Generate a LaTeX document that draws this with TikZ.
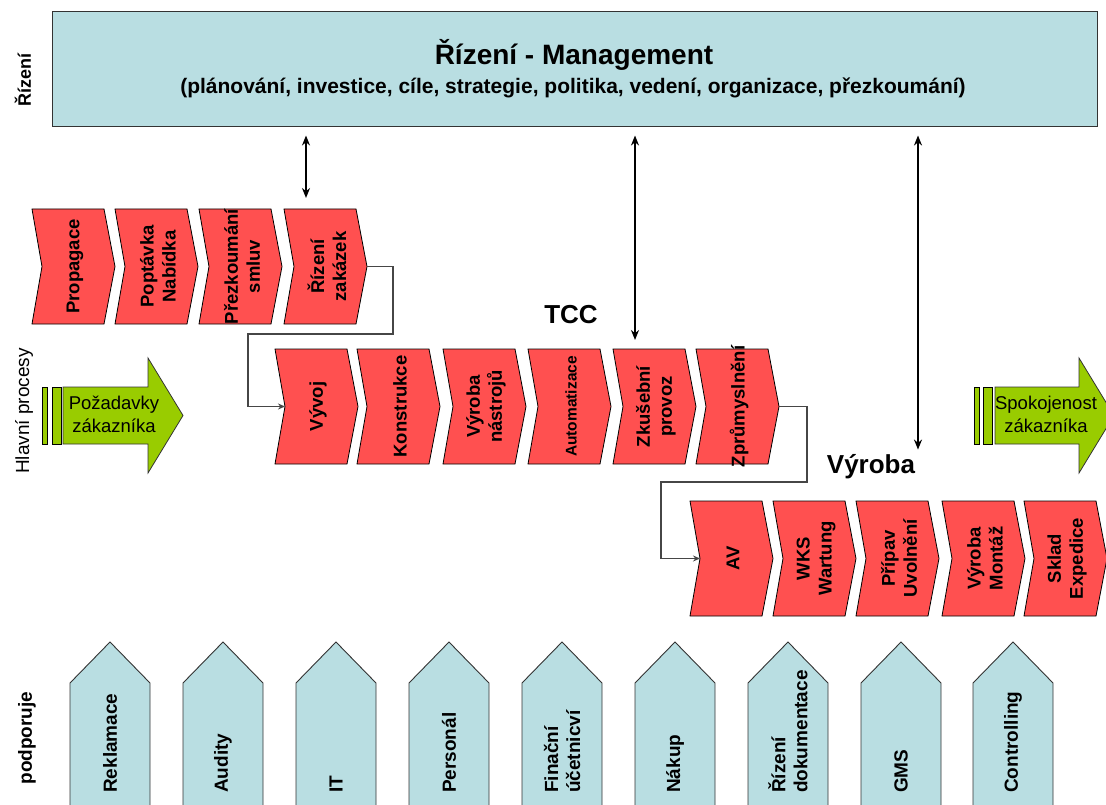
\documentclass[tikz,border=0pt]{standalone}
\usepackage{fontspec}
\setmainfont{Liberation Sans}
\usetikzlibrary{arrows.meta,calc}
\definecolor{mgmtblue}{RGB}{185,222,226}
\definecolor{procred}{RGB}{255,80,80}
\definecolor{custgreen}{RGB}{153,204,0}
\definecolor{linegray}{RGB}{70,70,70}
\newcommand{\chev}[4]{%
  \draw[chevron] (#2,#3) -- ++(72,0) -- ++(11,57.5) -- ++(-11,57.5) -- ++(-72,0) -- ++(10,-57.5) -- cycle;
  \coordinate (#1-top) at ({#2+36},#3);
  \coordinate (#1-notch) at ({#2+10},{#3+57.5});
  \coordinate (#1-tip) at ({#2+83},{#3+57.5});
  \node[chevtext] (#1) at ({#2+43},{#3+57.5}) {#4};
}
\newcommand{\supp}[3]{%
  \draw[suppbox] (#2,683) -- ({#2+40},642) -- ({#2+80},683) -- ({#2+80},830) -- (#2,830) -- cycle;
  \node[supptext] (#1) at ({#2+40},793) {#3};
}

\begin{document}
\begin{tikzpicture}[
  x=1pt, y=-1pt,
  mgmtbox/.style={rectangle, draw=black!80, fill=mgmtblue, line width=1pt, minimum width=1045pt, minimum height=115pt},
  chevron/.style={draw=black, fill=procred, line width=0.8pt},
  chevtext/.style={rotate=90, align=center, inner sep=0pt, font=\bfseries\fontsize{18.5}{22}\selectfont},
  suppbox/.style={draw=black!80, fill=mgmtblue, line width=0.9pt},
  supptext/.style={rotate=90, anchor=west, align=left, inner sep=0pt, font=\bfseries\fontsize{19}{22}\selectfont},
  custarrow/.style={draw=black!80, fill=custgreen, line width=0.8pt},
  custbar/.style={draw=black, fill=custgreen, line width=0.8pt},
  custtext/.style={align=center, inner sep=0pt, font=\fontsize{18.5}{23}\selectfont},
  sidelabel/.style={rotate=90, inner sep=0pt, font=\bfseries\fontsize{18}{22}\selectfont},
  grouplabel/.style={inner sep=1pt, font=\bfseries\fontsize{26}{30}\selectfont},
  updown/.style={{Stealth[length=10pt,width=8pt]}-{Stealth[length=10pt,width=8pt]}, line width=1.8pt},
  flow/.style={-{Stealth[length=7pt,width=6pt]}, draw=linegray, line width=1.2pt}
]
\useasboundingbox (0,0) rectangle (1106,805);
\clip (0,0) rectangle (1106,805);

\node[mgmtbox] (mgmt) at (574.5,69.5) {};
\node[font=\bfseries\fontsize{28}{32}\selectfont] (mgmttitle) at (574,55) {Řízení - Management};
\node[font=\bfseries\fontsize{21}{24}\selectfont] (mgmtsub) at (573,88) {(plánování, investice, cíle, strategie, politika, vedení, organizace, přezkoumání)};

\node[sidelabel] (lblriz) at (23,80) {Řízení};
\node[sidelabel, font=\fontsize{19}{22}\selectfont] (lblhlav) at (24,411) {Hlavní procesy};
\node[sidelabel, font=\bfseries\fontsize{19}{22}\selectfont] (lblpod) at (27,738) {podporuje};

\chev{propag}{32}{209}{Propagace}
\chev{poptav}{115}{209}{Poptávka\\Nabídka}
\chev{prezk}{199}{209}{Přezkoumání\\smluv}
\chev{zakazky}{284}{209}{Řízení\\zakázek}

\chev{vyvoj}{275}{349}{Vývoj}
\chev{konstr}{357}{349}{Konstrukce}
\chev{vyrnast}{443}{349}{Výroba\\nástrojů}
\chev{autom}{528}{349}{\fontsize{15.5}{18}\selectfont Automatizace}
\chev{zkus}{613}{349}{Zkušební\\provoz}
\chev{zprum}{696}{349}{Zprůmyslnění}

\chev{av}{690}{501}{AV}
\chev{wks}{773}{501}{WKS\\Wartung}
\chev{priprav}{856}{501}{Přípav\\Uvolnění}
\chev{vyrmont}{942}{501}{Výroba\\Montáž}
\chev{sklad}{1024}{501}{Sklad\\Expedice}

\node[grouplabel] (tcc) at (571,315) {TCC};
\node[grouplabel] (vyrlbl) at (871,467) {Výroba};

\draw[updown, shorten <=8pt, shorten >=11pt] (306,0 |- mgmt.south) -- (306,0 |- zakazky-top);
\draw[updown, shorten <=8pt, shorten >=9pt] (635,0 |- mgmt.south) -- (635,0 |- zkus-top);
\draw[updown, shorten <=8pt, shorten >=4pt] (918,0 |- mgmt.south) -- (918,0 |- vyrlbl.north);

\draw[flow] (zakazky-tip) -- (393,0 |- zakazky-tip) -- (393,334) -- (248,334) -- (248,0 |- vyvoj-notch) -- (vyvoj-notch);
\draw[flow] (zprum-tip) -- (807,0 |- zprum-tip) -- (807,482) -- (661,482) -- (661,0 |- av-notch) -- (av-notch);

\draw[custarrow] (63,387) -- (148,387) -- (148,358) -- (183,415.5) -- (148,473) -- (148,444) -- (63,444) -- cycle;
\draw[custbar] (42,387) rectangle (47,444);
\draw[custbar] (52,387) rectangle (61,444);
\node[custtext] (pozad) at (114,414) {Požadavky\\zákazníka};

\draw[custarrow] (995,387) -- (1079,387) -- (1079,358) -- (1114,415.5) -- (1079,473) -- (1079,444) -- (995,444) -- cycle;
\draw[custbar] (974,387) rectangle (979,444);
\draw[custbar] (983,387) rectangle (992,444);
\node[custtext] (spokoj) at (1046,414) {Spokojenost\\zákazníka};

\supp{reklam}{70}{Reklamace}
\supp{audity}{183}{Audity}
\supp{it}{296}{IT}
\supp{person}{409}{Personál}
\supp{financ}{522}{Finační\\účetnicví}
\supp{nakup}{635}{Nákup}
\supp{rizdok}{748}{Řízení\\dokumentace}
\supp{gms}{861}{GMS}
\supp{control}{973}{Controlling}
\end{tikzpicture}
\end{document}
